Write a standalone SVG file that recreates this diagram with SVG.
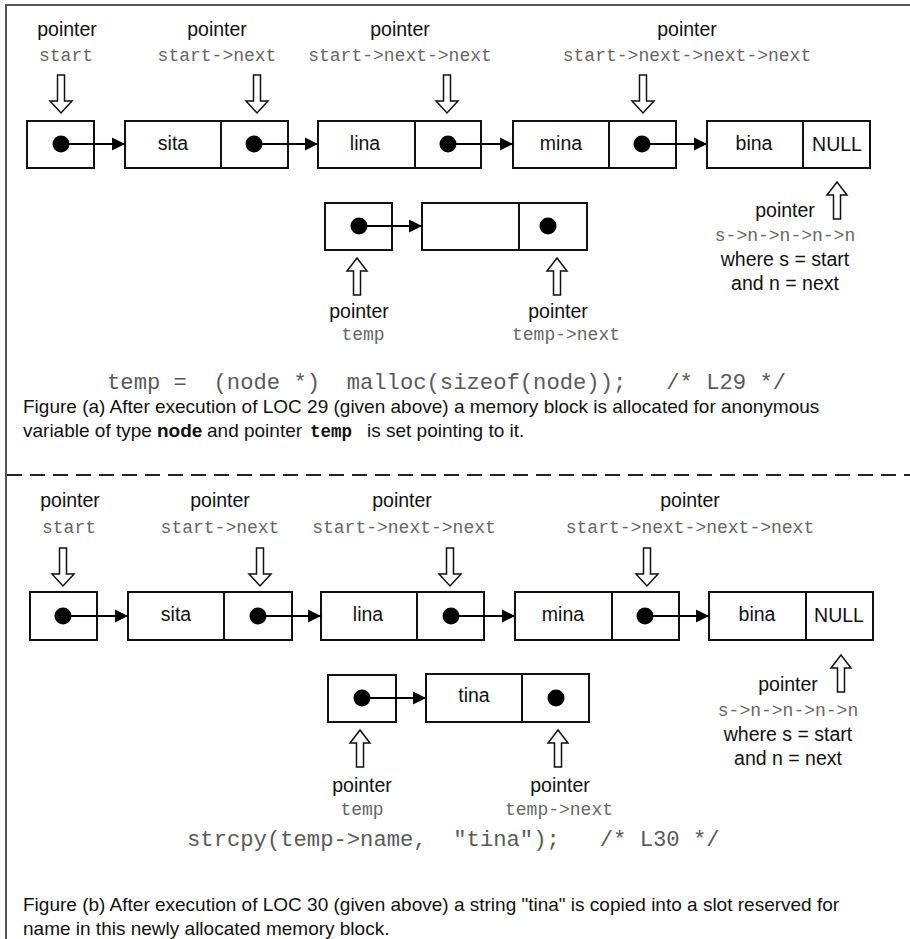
<svg xmlns="http://www.w3.org/2000/svg" width="910" height="939" viewBox="0 0 910 939">
<style>
.lbl{font-family:"Liberation Sans",Arial,sans-serif;font-size:19.5px;fill:#111;text-anchor:middle}
.mono{font-family:"Liberation Mono","Courier New",monospace;font-size:18px;fill:#666;text-anchor:middle}
.code{font-family:"Liberation Mono","Courier New",monospace;font-size:22.2px;fill:#5a5a5a;white-space:pre}
.cap{font-family:"Liberation Sans",Arial,sans-serif;font-size:19px;fill:#111;white-space:pre}
.bmono{font-family:"Liberation Mono","Courier New",monospace;font-size:17.5px;font-weight:bold;fill:#111}
.box{fill:#fff;stroke:#111;stroke-width:2}
.div{stroke:#111;stroke-width:2}
.dot{fill:#000}
.conn{stroke:#000;stroke-width:2;fill:none;marker-end:url(#ah)}
.harrow{fill:#fff;stroke:#111;stroke-width:1.5}
.frame{stroke:#555;stroke-width:2;fill:none}
.dash{stroke:#222;stroke-width:2;stroke-dasharray:15 8;fill:none}
</style>
<defs>
<marker id="ah" markerWidth="13" markerHeight="14" refX="13" refY="7" orient="auto" markerUnits="userSpaceOnUse">
<path d="M0,0.5 L13,7 L0,13.5 Z" fill="#000"/>
</marker>
<path id="down" class="harrow" d="M-3.5,0 H3.5 V26 H11 L0,38 L-11,26 H-3.5 Z"/>
<path id="up" class="harrow" d="M0,0 L10,13 H3.5 V37 H-3.5 V13 H-10 Z"/>
</defs>

<g id="frame">
<path class="frame" d="M6,939 V5 H910"/>
<path class="dash" d="M7,475 H910"/>
</g>

<!-- ===== Figure (a) ===== -->
<g id="a-labels">
<text class="lbl" x="67" y="36">pointer</text>
<text class="mono" x="66" y="61">start</text>
<text class="lbl" x="217" y="36">pointer</text>
<text class="mono" x="217" y="61">start-&gt;next</text>
<text class="lbl" x="400" y="36">pointer</text>
<text class="mono" x="400" y="61">start-&gt;next-&gt;next</text>
<text class="lbl" x="687" y="36">pointer</text>
<text class="mono" x="687" y="61">start-&gt;next-&gt;next-&gt;next</text>
<use href="#down" x="61" y="75"/>
<use href="#down" x="257" y="75"/>
<use href="#down" x="447" y="75"/>
<use href="#down" x="643" y="75"/>
</g>

<g id="a-start">
<rect class="box" x="27" y="121" width="67" height="47"/>
<circle class="dot" cx="61" cy="144" r="8.5"/>
</g>
<g id="a-sita">
<rect class="box" x="125" y="121" width="163" height="47"/>
<line class="div" x1="221" y1="121" x2="221" y2="168"/>
<text class="lbl" x="173" y="150">sita</text>
<circle class="dot" cx="254" cy="144" r="8.5"/>
</g>
<g id="a-lina">
<rect class="box" x="318" y="121" width="163" height="47"/>
<line class="div" x1="415" y1="121" x2="415" y2="168"/>
<text class="lbl" x="365" y="150">lina</text>
<circle class="dot" cx="448" cy="144" r="8.5"/>
</g>
<g id="a-mina">
<rect class="box" x="513" y="121" width="163" height="47"/>
<line class="div" x1="609" y1="121" x2="609" y2="168"/>
<text class="lbl" x="561" y="150">mina</text>
<circle class="dot" cx="642" cy="144" r="8.5"/>
</g>
<g id="a-bina">
<rect class="box" x="707" y="121" width="163" height="47"/>
<line class="div" x1="803" y1="121" x2="803" y2="168"/>
<text class="lbl" x="754" y="150">bina</text>
<text class="lbl" x="837" y="151">NULL</text>
</g>
<g id="a-last-label">
<use href="#up" x="837" y="182"/>
<text class="lbl" x="785" y="217">pointer</text>
<text class="mono" x="785" y="241">s-&gt;n-&gt;n-&gt;n-&gt;n</text>
<text class="lbl" x="785" y="266">where s = start</text>
<text class="lbl" x="785" y="290">and n = next</text>
</g>

<g id="a-temp">
<rect class="box" x="325" y="203" width="67" height="47"/>
<circle class="dot" cx="359" cy="226" r="8.5"/>
<use href="#up" x="357" y="258"/>
<text class="lbl" x="359" y="318">pointer</text>
<text class="mono" x="363" y="340">temp</text>
</g>
<g id="a-newnode">
<rect class="box" x="422" y="203" width="165" height="47"/>
<line class="div" x1="519" y1="203" x2="519" y2="250"/>
<circle class="dot" cx="548" cy="226" r="8.5"/>
<use href="#up" x="557" y="258"/>
<text class="lbl" x="558" y="318">pointer</text>
<text class="mono" x="566" y="340">temp-&gt;next</text>
</g>

<g id="a-text">
<text class="code" xml:space="preserve" x="107" y="389">temp =  (node *)  malloc(sizeof(node));   /* L29 */</text>
<text class="cap" x="23" y="413">Figure (a) After execution of LOC 29 (given above) a memory block is allocated for anonymous</text>
<text class="cap" y="437"><tspan x="23">variable of type</tspan><tspan x="157" font-weight="bold">node</tspan><tspan x="207">and pointer</tspan><tspan x="310" class="bmono">temp</tspan><tspan x="367">is set pointing to it.</tspan></text>
</g>

<!-- ===== Figure (b) ===== -->
<g id="b-labels">
<text class="lbl" x="70" y="507">pointer</text>
<text class="mono" x="69" y="533">start</text>
<text class="lbl" x="220" y="507">pointer</text>
<text class="mono" x="220" y="533">start-&gt;next</text>
<text class="lbl" x="402" y="507">pointer</text>
<text class="mono" x="404" y="533">start-&gt;next-&gt;next</text>
<text class="lbl" x="690" y="507">pointer</text>
<text class="mono" x="690" y="533">start-&gt;next-&gt;next-&gt;next</text>
<use href="#down" x="63" y="548"/>
<use href="#down" x="260" y="548"/>
<use href="#down" x="450" y="548"/>
<use href="#down" x="647" y="548"/>
</g>

<g id="b-start">
<rect class="box" x="30" y="592" width="67" height="48"/>
<circle class="dot" cx="63" cy="616" r="8.5"/>
</g>
<g id="b-sita">
<rect class="box" x="128" y="592" width="164" height="48"/>
<line class="div" x1="224" y1="592" x2="224" y2="640"/>
<text class="lbl" x="176" y="621">sita</text>
<circle class="dot" cx="258" cy="616" r="8.5"/>
</g>
<g id="b-lina">
<rect class="box" x="321" y="592" width="163" height="48"/>
<line class="div" x1="417" y1="592" x2="417" y2="640"/>
<text class="lbl" x="368" y="621">lina</text>
<circle class="dot" cx="451" cy="616" r="8.5"/>
</g>
<g id="b-mina">
<rect class="box" x="515" y="592" width="164" height="48"/>
<line class="div" x1="612" y1="592" x2="612" y2="640"/>
<text class="lbl" x="563" y="621">mina</text>
<circle class="dot" cx="645" cy="616" r="8.5"/>
</g>
<g id="b-bina">
<rect class="box" x="709" y="592" width="164" height="48"/>
<line class="div" x1="806" y1="592" x2="806" y2="640"/>
<text class="lbl" x="757" y="621">bina</text>
<text class="lbl" x="839" y="622">NULL</text>
</g>
<g id="b-last-label">
<use href="#up" x="841" y="655"/>
<text class="lbl" x="788" y="691">pointer</text>
<text class="mono" x="788" y="716">s-&gt;n-&gt;n-&gt;n-&gt;n</text>
<text class="lbl" x="788" y="741">where s = start</text>
<text class="lbl" x="788" y="765">and n = next</text>
</g>

<g id="b-temp">
<rect class="box" x="328" y="675" width="68" height="47"/>
<circle class="dot" cx="362" cy="698" r="8.5"/>
<use href="#up" x="360" y="730"/>
<text class="lbl" x="362" y="792">pointer</text>
<text class="mono" x="362" y="815">temp</text>
</g>
<g id="b-tina">
<rect class="box" x="426" y="674" width="163" height="48"/>
<line class="div" x1="522" y1="674" x2="522" y2="722"/>
<text class="lbl" x="474" y="702">tina</text>
<circle class="dot" cx="556" cy="698" r="8.5"/>
<use href="#up" x="558" y="730"/>
<text class="lbl" x="560" y="792">pointer</text>
<text class="mono" x="559" y="815">temp-&gt;next</text>
</g>

<g id="b-text">
<text class="code" xml:space="preserve" x="187" y="846">strcpy(temp-&gt;name,  "tina");   /* L30 */</text>
<text class="cap" x="23" y="911">Figure (b) After execution of LOC 30 (given above) a string "tina" is copied into a slot reserved for</text>
<text class="cap" x="23" y="935">name in this newly allocated memory block.</text>
</g>

<g id="connectors">
<line class="conn" x1="61" y1="144" x2="125" y2="144"/>
<line class="conn" x1="254" y1="144" x2="318" y2="144"/>
<line class="conn" x1="448" y1="144" x2="513" y2="144"/>
<line class="conn" x1="642" y1="144" x2="707" y2="144"/>
<line class="conn" x1="359" y1="226" x2="422" y2="226"/>
<line class="conn" x1="63" y1="616" x2="128" y2="616"/>
<line class="conn" x1="258" y1="616" x2="321" y2="616"/>
<line class="conn" x1="451" y1="616" x2="515" y2="616"/>
<line class="conn" x1="645" y1="616" x2="709" y2="616"/>
<line class="conn" x1="362" y1="698" x2="426" y2="698"/>
</g>
</svg>
